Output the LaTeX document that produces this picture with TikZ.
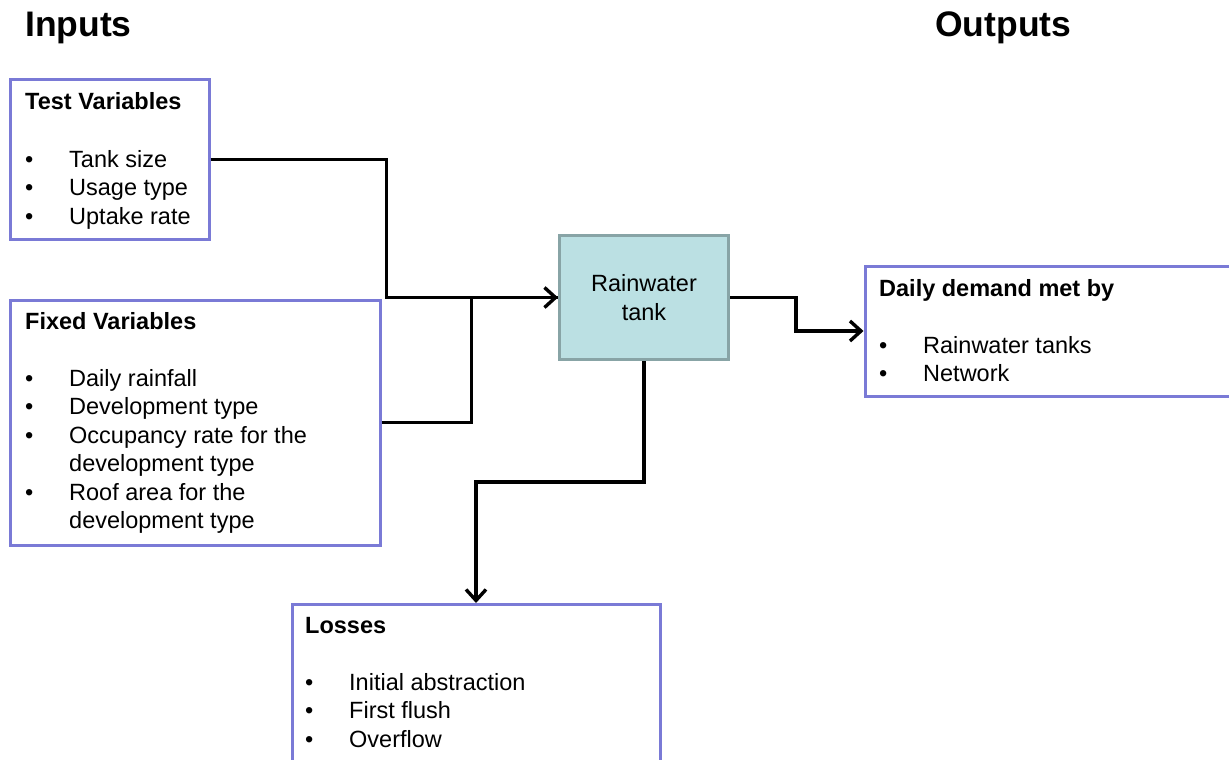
\documentclass[tikz,border=0pt]{standalone}
\usepackage{fontspec}
\setmainfont{Liberation Sans}
\usetikzlibrary{arrows.meta}

\definecolor{boxline}{RGB}{122,122,214}
\definecolor{tankfill}{RGB}{187,224,227}
\definecolor{tankline}{RGB}{136,164,166}

\tikzset{
    box/.style = {draw = boxline, line width = 3pt, anchor = north west, inner sep = 0pt},
    tankbox/.style = {draw = tankline, fill = tankfill, line width = 3pt, inner sep = 0pt,
        align = center, font = \fontsize{23.5}{28.5}\selectfont},
    heading/.style = {anchor = base west, inner sep = 0pt, font = \fontsize{35.5}{42}\selectfont\bfseries},
    boxtitle/.style = {anchor = base west, inner sep = 0pt, font = \fontsize{23.5}{28.5}\selectfont\bfseries},
    entry/.style = {anchor = base west, inner sep = 0pt, font = \fontsize{23.5}{28.5}\selectfont},
    flow/.style = {line width = 3.4pt},
    flowarrow/.style = {flow, -{Straight Barb[length = 11pt, width = 20pt]}},
}

\begin{document}
\begin{tikzpicture}[x = 1pt, y = -1pt]
    \useasboundingbox (0, 0) rectangle (1229, 760);

    \node[heading] (inputs) at (25, 37){Inputs};
    \node[heading] (outputs) at (935, 37){Outputs};

    % boxes
    \node[box, minimum width = 199pt, minimum height = 159pt] (test) at (8.5, 78.5){};
    \node[box, minimum width = 370pt, minimum height = 245pt] (fixed) at (8.5, 298.5){};
    \node[box, minimum width = 420pt, minimum height = 130pt] (daily) at (863.5, 264.5){};
    \node[box, minimum width = 368pt, minimum height = 220pt] (losses) at (290.5, 603){};
    \node[tankbox, minimum width = 169pt, minimum height = 124pt] (tank) at (644, 297.5){Rainwater\\tank};

    % box texts
    \node[boxtitle] (testtitle) at (25, 109.5){Test Variables};
    \foreach \txt [count = \i] in {Tank size, Usage type, Uptake rate} {
        \node[entry] (testdot\i) at (25, 138.5 + 28.5*\i){•};
        \node[entry] (testitem\i) at (69, 138.5 + 28.5*\i){\txt};
    }

    \node[boxtitle] (fixedtitle) at (25, 329){Fixed Variables};
    \foreach \txt/\dot [count = \i] in {Daily rainfall/•, Development type/•,
        Occupancy rate for the/•, development type/, Roof area for the/•, development type/} {
        \node[entry] (fixeddot\i) at (25, 357.5 + 28.5*\i){\dot};
        \node[entry] (fixeditem\i) at (69, 357.5 + 28.5*\i){\txt};
    }

    \node[boxtitle] (dailytitle) at (879, 296){Daily demand met by};
    \foreach \txt [count = \i] in {Rainwater tanks, Network} {
        \node[entry] (dailydot\i) at (879, 324.5 + 28.5*\i){•};
        \node[entry] (dailyitem\i) at (923, 324.5 + 28.5*\i){\txt};
    }

    \node[boxtitle] (lossestitle) at (305, 633){Losses};
    \foreach \txt [count = \i] in {Initial abstraction, First flush, Overflow} {
        \node[entry] (lossesdot\i) at (305, 661.5 + 28.5*\i){•};
        \node[entry] (lossesitem\i) at (349, 661.5 + 28.5*\i){\txt};
    }

    % connectors
    \draw[flow] (fixed.east) -- ++(90, 0) |- (tank.west);
    \draw[flowarrow] (test.east) -- ++(176, 0) |- (tank.west);
    \draw[flowarrow] (tank.east) -- ++(66, 0) |- (daily.west);
    \draw[flowarrow] (tank.south) -- ++(0, 121) -| (losses.north);
\end{tikzpicture}
\end{document}
